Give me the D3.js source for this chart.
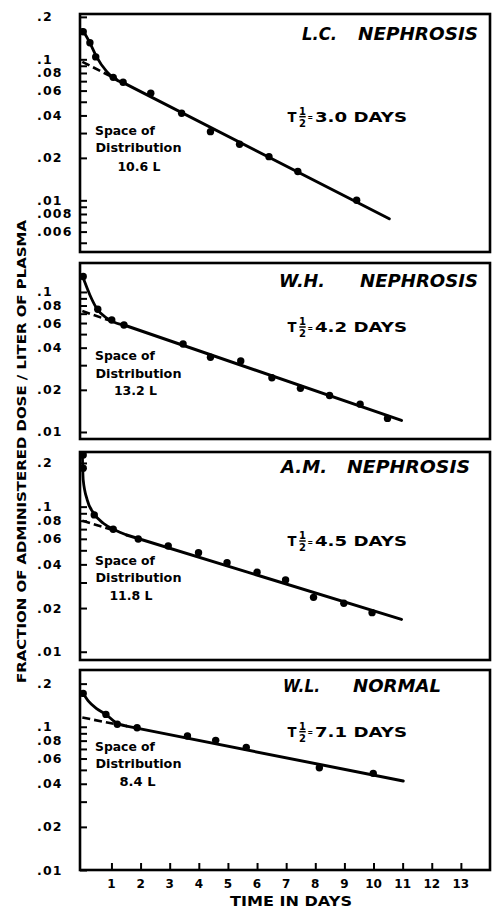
<!DOCTYPE html>
<html><head><meta charset="utf-8">
<script src="https://cdn.jsdelivr.net/npm/d3@7"></script>
<style>body{margin:0;background:#fff}svg{display:block}</style>
</head><body>
<svg id="c" width="492" height="908"></svg>
<script>
// ---------- DATA ----------
const dayTicks = [1,2,3,4,5,6,7,8,9,10,11,12,13];

// L.C. NEPHROSIS
const lcPointDays = [0.03,0.26,0.46,1.06,1.40,2.35,3.41,4.40,5.40,6.41,7.40,9.42];
const lcPointVals = [0.157,0.131,0.104,0.0745,0.0687,0.0574,0.0414,0.0307,0.025,0.0204,0.016,0.0100];
const lcCurveDays = [0,0.26,0.49,0.84,1.12,1.40];
const lcCurveVals = [0.163,0.131,0.104,0.0817,0.0725,0.0683];
const lcLineEnd = [10.54,0.0074];
const lcDashDays = [0,1.2];
const lcDashVals = [0.096,0.0717];

// W.H. NEPHROSIS
const whPointDays = [0.03,0.53,1.01,1.43,3.46,4.40,5.44,6.51,7.49,8.49,9.54,10.48];
const whPointVals = [0.129,0.0752,0.0631,0.0581,0.0425,0.0342,0.0321,0.0244,0.0205,0.0182,0.0158,0.0125];
const whCurveDays = [0,0.26,0.49,0.84,1.18,1.43];
const whCurveVals = [0.131,0.0952,0.0765,0.0649,0.0598,0.0581];
const whLineEnd = [10.96,0.0121];
const whDashDays = [0,1.0];
const whDashVals = [0.073,0.0619];

// A.M. NEPHROSIS
const amPointDays = [0.03,0.03,0.41,1.06,1.92,2.95,3.99,4.97,6.00,6.98,7.94,8.98,9.95];
const amPointVals = [0.227,0.184,0.0877,0.0699,0.0599,0.0536,0.0482,0.0411,0.0353,0.0312,0.0237,0.0216,0.0186];
const amCurveDays = [0,0.03,0.17,0.41,0.72,1.12,1.52];
const amCurveVals = [0.234,0.153,0.111,0.0891,0.0768,0.0691,0.0638];
const amLineEnd = [10.96,0.0167];
const amDashDays = [0,1.1];
const amDashVals = [0.080,0.0684];

// W.L. NORMAL
const wlPointDays = [0.03,0.81,1.20,1.88,3.61,4.58,5.63,8.14,9.99];
const wlPointVals = [0.171,0.122,0.104,0.0984,0.0861,0.0804,0.0718,0.0518,0.0473];
const wlCurveDays = [0,0.21,0.49,0.81,1.12,1.52];
const wlCurveVals = [0.175,0.151,0.134,0.122,0.108,0.101];
const wlLineEnd = [11.02,0.0418];
const wlDashDays = [0,1.1];
const wlDashVals = [0.116,0.1047];

// texts
const subjects = ["L.C.","W.H.","A.M.","W.L."];
const conditions = ["NEPHROSIS","NEPHROSIS","NEPHROSIS","NORMAL"];
const halfLives = ["3.0 DAYS","4.2 DAYS","4.5 DAYS","7.1 DAYS"];
const volumes = ["10.6 L","13.2 L","11.8 L","8.4 L"];
const ticks1 = [0.2,0.1,0.09,0.08,0.07,0.06,0.05,0.04,0.03,0.02,0.01,0.009,0.008,0.007,0.006,0.005];
const ticks2 = [0.1,0.09,0.08,0.07,0.06,0.05,0.04,0.03,0.02,0.01];
const ticks34 = [0.2,0.1,0.09,0.08,0.07,0.06,0.05,0.04,0.03,0.02,0.01];
const labels1 = [0.2,0.1,0.08,0.06,0.04,0.02,0.01,0.008,0.006];
const labels2 = [0.1,0.08,0.06,0.04,0.02,0.01];
const labels34 = [0.2,0.1,0.08,0.06,0.04,0.02,0.01];

// ---------- LAYOUT ----------
const FONT = "DejaVu Sans, sans-serif";
const L = 80, R = 490;
const x = d3.scaleLinear().domain([-0.08,14]).range([L,R]);

const panels = [
  {top:14, bottom:252, dom:[0.0043,0.2096], pd:lcPointDays, pv:lcPointVals, cd:lcCurveDays, cv:lcCurveVals, le:lcLineEnd, dd:lcDashDays, dv:lcDashVals,
   ticks:ticks1, labels:labels1, tA:[302,35], tB:[358,120], tY:40, hY:121.7, sY:[135,152,171], vX:139},
  {top:263, bottom:439, dom:[0.00891,0.161], pd:whPointDays, pv:whPointVals, cd:whCurveDays, cv:whCurveVals, le:whLineEnd, dd:whDashDays, dv:whDashVals,
   ticks:ticks2, labels:labels2, tA:[279,46], tB:[360,118], tY:286.7, hY:332, sY:[360,377.7,395], vX:135.5},
  {top:452, bottom:660, dom:[0.00877,0.238], pd:amPointDays, pv:amPointVals, cd:amCurveDays, cv:amCurveVals, le:amLineEnd, dd:amDashDays, dv:amDashVals,
   ticks:ticks34, labels:labels34, tA:[281,46], tB:[347,123], tY:473.3, hY:546, sY:[565,581.7,600], vX:131},
  {top:670, bottom:870, dom:[0.01,0.249], pd:wlPointDays, pv:wlPointVals, cd:wlCurveDays, cv:wlCurveVals, le:wlLineEnd, dd:wlDashDays, dv:wlDashVals,
   ticks:ticks34, labels:labels34, tA:[283,37], tB:[353,88], tY:691.7, hY:736.7, sY:[751,768,786], vX:137.5}
];

const svg = d3.select("#c");
const fmt = v => String(v).replace(/^0/,"");

panels.forEach((p,i)=>{
  const y = d3.scaleLog().domain(p.dom).range([p.bottom,p.top]);
  const g = svg.append("g");

  // y ticks inside
  const yAxis = d3.axisRight(y).tickValues(p.ticks).tickSize(7).tickFormat("");
  const ya = g.append("g").attr("transform",`translate(${L},0)`).call(yAxis);
  ya.select(".domain").remove();
  ya.selectAll("line").attr("stroke","#000").attr("stroke-width",2);

  // y labels
  g.selectAll("text.yl").data(p.labels).join("text")
    .attr("x",37).attr("y",d=>y(d)).attr("dy","0.36em")
    .attr("font-family",FONT).attr("font-weight","bold").attr("font-size",12.5)
    .attr("letter-spacing",1.2).text(fmt);

  // frame
  g.append("rect").attr("x",L).attr("y",p.top).attr("width",R-L).attr("height",p.bottom-p.top)
    .attr("fill","none").attr("stroke","#000").attr("stroke-width",2.6);

  // dashed extrapolation
  const line = d3.line().x(d=>x(d[0])).y(d=>y(d[1]));
  g.append("path").datum(p.dd.map((d,k)=>[d,p.dv[k]])).attr("d",line)
    .attr("fill","none").attr("stroke","#000").attr("stroke-width",2.6).attr("stroke-dasharray","8,4");

  // fast curve
  const curve = d3.line().x(d=>x(d[0])).y(d=>y(d[1])).curve(d3.curveMonotoneX);
  g.append("path").datum(p.cd.map((d,k)=>[d,p.cv[k]])).attr("d",curve)
    .attr("fill","none").attr("stroke","#000").attr("stroke-width",2.8).attr("stroke-linecap","round");

  // slow line
  const last = p.cd.length-1;
  g.append("path").datum([[p.cd[last],p.cv[last]],p.le]).attr("d",line)
    .attr("fill","none").attr("stroke","#000").attr("stroke-width",3).attr("stroke-linecap","round");

  // points
  g.selectAll("circle").data(p.pd.map((d,k)=>[d,p.pv[k]])).join("circle")
    .attr("cx",d=>x(d[0])).attr("cy",d=>y(d[1])).attr("r",3.7).attr("fill","#000");

  // titles
  const tt = (t,xx,w)=>g.append("text").attr("x",xx).attr("y",p.tY)
    .attr("font-family",FONT).attr("font-weight","bold").attr("font-style","italic")
    .attr("font-size",17).attr("textLength",w).attr("lengthAdjust","spacingAndGlyphs").text(t);
  tt(subjects[i],p.tA[0],p.tA[1]);
  tt(conditions[i],p.tB[0],p.tB[1]);

  // half life
  const hx = 287.5;
  g.append("text").attr("x",hx).attr("y",p.hY).attr("font-family",FONT).attr("font-weight","bold")
    .attr("font-size",14.5).attr("textLength",9).attr("lengthAdjust","spacingAndGlyphs").text("T");
  g.append("text").attr("x",hx+15).attr("y",p.hY-6.8).attr("text-anchor","middle").attr("font-family",FONT)
    .attr("font-weight","bold").attr("font-size",10).text("1");
  g.append("line").attr("x1",hx+11.8).attr("x2",hx+18.2).attr("y1",p.hY-5).attr("y2",p.hY-5)
    .attr("stroke","#000").attr("stroke-width",1.5);
  g.append("text").attr("x",hx+15).attr("y",p.hY+5).attr("text-anchor","middle").attr("font-family",FONT)
    .attr("font-weight","bold").attr("font-size",10).text("2");
  g.append("text").attr("x",hx+20).attr("y",p.hY-1.5).attr("font-family",FONT).attr("font-weight","bold")
    .attr("font-size",9).attr("textLength",5.5).attr("lengthAdjust","spacingAndGlyphs").text("=");
  g.append("text").attr("x",315).attr("y",p.hY).attr("font-family",FONT).attr("font-weight","bold")
    .attr("font-size",14).attr("textLength",92).attr("lengthAdjust","spacingAndGlyphs").text(halfLives[i]);

  // space of distribution
  const st = (t,xx,yy,w,anchor)=>g.append("text").attr("x",xx).attr("y",yy).attr("text-anchor",anchor)
    .attr("font-family",FONT).attr("font-weight","bold").attr("font-size",12.8)
    .attr("textLength",w).attr("lengthAdjust","spacingAndGlyphs").text(t);
  st("Space of",95,p.sY[0],60,"start");
  st("Distribution",95.5,p.sY[1],86,"start");
  st(volumes[i],p.vX,p.sY[2],volumes[i].length*7.2,"middle");

  // x axis on bottom panel
  if(i===panels.length-1){
    const xa = g.append("g").attr("transform",`translate(0,${p.bottom})`)
      .call(d3.axisTop(x).tickValues(dayTicks).tickSize(7).tickFormat(""));
    xa.select(".domain").remove();
    xa.selectAll("line").attr("stroke","#000").attr("stroke-width",2);
    g.selectAll("text.xl").data(dayTicks).join("text").attr("class","xl")
      .attr("x",d=>x(d)).attr("y",888).attr("text-anchor","middle")
      .attr("font-family",FONT).attr("font-weight","bold").attr("font-size",12).text(d=>d);
  }
});

// axis titles
svg.append("text").attr("x",291).attr("y",906).attr("text-anchor","middle")
  .attr("font-family",FONT).attr("font-weight","bold").attr("font-size",13.5)
  .attr("textLength",122).attr("lengthAdjust","spacingAndGlyphs").text("TIME IN DAYS");
svg.append("text").attr("transform","translate(26,451.5) rotate(-90)").attr("text-anchor","middle")
  .attr("font-family",FONT).attr("font-weight","bold").attr("font-size",13)
  .attr("textLength",463).attr("lengthAdjust","spacingAndGlyphs")
  .text("FRACTION OF ADMINISTERED DOSE / LITER OF PLASMA");
</script>
</body></html>
